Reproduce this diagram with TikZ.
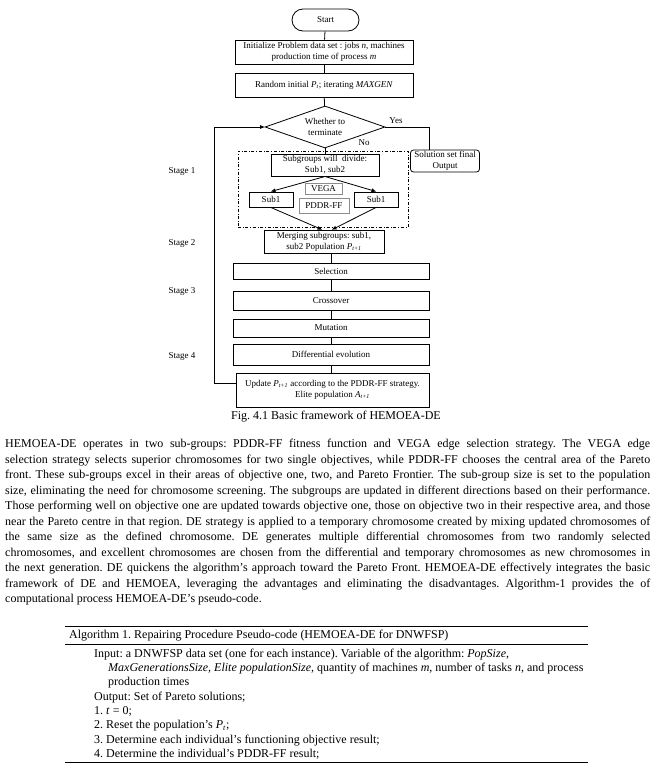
\documentclass[tikz,border=0pt]{standalone}
\usepackage{fontspec}
\setmainfont{Liberation Serif}[Ligatures=CommonOff]
\usetikzlibrary{arrows.meta,shapes.geometric,calc}
\newcommand\ff{\fontsize{9}{11}\selectfont}
\newcommand\pf{\fontsize{12}{15.5}\selectfont}
\newcommand\af{\fontsize{12}{14.3}\selectfont}
\newcommand\sbs[2]{\textit{#1}\textsubscript{\textit{#2}}}
\newcommand\jline[1]{\makebox[645pt][s]{#1}}
\frenchspacing
\begin{document}
\begin{tikzpicture}[x=1pt,y=-1pt,
  box/.style={draw, line width=0.8pt, inner sep=0pt, align=center, font=\ff},
  tbox/.style={box, line width=1.0pt},
  gbox/.style={box, draw=black!45, line width=0.9pt},
  lbl/.style={font=\ff, inner sep=0pt},
  arr/.style={line width=0.8pt, -{Triangle[length=4.5pt,width=3.5pt]}},
  ln/.style={line width=0.8pt},
  rule/.style={line width=0.9pt}]
\useasboundingbox (0,0) rectangle (658,777);
\fill[white] (0,0) rectangle (658,777);

% flowchart
\node[box, rounded corners=11pt, minimum width=67, minimum height=22] (start) at (325.5,20) {Start};
\node[box, minimum width=178, minimum height=24] (init) at (324,52) {Initialize Problem data set : jobs \textit{n}, machines\\production time of process \textit{m}};
\node[box, minimum width=178, minimum height=24] (rand) at (324,85) {Random initial \sbs{P}{t}; iterating \textit{MAXGEN}};
\node[box, diamond, aspect=2.857, minimum width=120, minimum height=42] (dia) at (325,127) {Whether to\\terminate};
\node[box, rounded corners=3pt, minimum width=69, minimum height=22] (sol) at (445,161) {Solution set final\\Output};
\node[draw, dash dot, line width=0.6pt, minimum width=170, minimum height=76, inner sep=0pt] (grp) at (323,189) {};
\node[tbox, minimum width=108, minimum height=22] (subg) at (325,165) {Subgroups will\ \ divide:\\Sub1, sub2};
\node[tbox, minimum width=44, minimum height=15] (s1) at (271,199.5) {Sub1};
\node[tbox, minimum width=44, minimum height=15] (s2) at (376,199.5) {Sub1};
\node[gbox, minimum width=37, minimum height=11] (vega) at (323.5,188.5) {VEGA};
\node[gbox, minimum width=50, minimum height=15] (pddr) at (324,205.5) {PDDR-FF};
\node[box, minimum width=120, minimum height=23] (merge) at (324,241.5) {Merging subgroups: sub1,\\sub2 Population \sbs{P}{t+1}};
\node[box, minimum width=196, minimum height=16] (sel) at (331,271) {Selection};
\node[box, minimum width=196, minimum height=19] (cross) at (331,300.5) {Crossover};
\node[box, minimum width=196, minimum height=18] (mut) at (331,328) {Mutation};
\node[box, minimum width=196, minimum height=21] (de) at (331,354.5) {Differential evolution};
\node[box, minimum width=193, minimum height=34] (upd) at (332.5,390) {Update \sbs{P}{t+1} according to the PDDR-FF strategy.\\Elite population \sbs{A}{t+1}};

\node[lbl] (st1) at (182,171) {Stage 1};
\node[lbl] (st2) at (182,243) {Stage 2};
\node[lbl] (st3) at (182,291) {Stage 3};
\node[lbl] (st4) at (182,356) {Stage 4};

\draw[ln] (start) -- (init);
\draw[ln] (init) -- (rand);
\draw[ln] (rand) -- (dia);
\draw[ln] (dia.south) -- (dia.south |- subg.north);
\coordinate (yc) at (429,127);
\draw[ln] (dia.east) -- (yc) -- (yc |- sol.north);
\node[lbl] (yes) at (396,121) {Yes};
\node[lbl] (no) at (364,143) {No};
\draw[arr] (subg.south) -- (s1.north);
\draw[arr] (subg.south) -- (s2.north);
\draw[arr] (s1.south) -- ($(merge.north)+(-2,0)$);
\draw[arr] (s2.south) -- ($(merge.north)+(8,0)$);
\draw[ln] (sel.north) -- (sel.north |- merge.south);
\draw[ln] (sel) -- (cross);
\draw[ln] (cross) -- (mut);
\draw[ln] (mut) -- (de);
\draw[ln] (de.south) -- (de.south |- upd.north);
\draw[arr] ($(upd.west)+(0,-7)$) -- ++(-21,0) |- (dia.west);

\node[font=\pf, inner sep=0pt] (cap) at (336,417) {Fig. 4.1 Basic framework of HEMOEA-DE};

% paragraph
\node[anchor=north west, inner sep=0pt, align=left, font=\pf] (para) at (5,439) {%
\jline{HEMOEA-DE operates in two sub-groups: PDDR-FF fitness function and VEGA edge selection strategy. The VEGA edge}\\
\jline{selection strategy selects superior chromosomes for two single objectives, while PDDR-FF chooses the central area of the Pareto}\\
\jline{front. These sub-groups excel in their areas of objective one, two, and Pareto Frontier. The sub-group size is set to the population}\\
\jline{size, eliminating the need for chromosome screening. The subgroups are updated in different directions based on their performance.}\\
\jline{Those performing well on objective one are updated towards objective one, those on objective two in their respective area, and those}\\
\jline{near the Pareto centre in that region. DE strategy is applied to a temporary chromosome created by mixing updated chromosomes of}\\
\jline{the same size as the defined chromosome. DE generates multiple differential chromosomes from two randomly selected}\\
\jline{chromosomes, and excellent chromosomes are chosen from the differential and temporary chromosomes as new chromosomes in}\\
\jline{the next generation. DE quickens the algorithm’s approach toward the Pareto Front. HEMOEA-DE effectively integrates the basic}\\
\jline{framework of DE and HEMOEA, leveraging the advantages and eliminating the disadvantages. Algorithm-1 provides the of}\\
computational process HEMOEA-DE’s pseudo-code.};

% algorithm
\coordinate (r1a) at (65,626); \coordinate (r1b) at (588,626);
\coordinate (r2a) at (65,644); \coordinate (r2b) at (588,644);
\coordinate (r3a) at (65,762); \coordinate (r3b) at (588,762);
\draw[rule] (r1a) -- (r1b);
\draw[rule] (r2a) -- (r2b);
\draw[rule] (r3a) -- (r3b);
\node[anchor=base west, inner sep=0pt, font=\af] (algt) at (69,638) {Algorithm 1. Repairing Procedure Pseudo-code (HEMOEA-DE for DNWFSP)};
\node[anchor=north west, inner sep=0pt, align=left, font=\af] (alg) at (94,648.6) {%
Input: a DNWFSP data set (one for each instance). Variable of the algorithm: \textit{PopSize},\\
\hspace*{14pt}\textit{MaxGenerationsSize, Elite populationSize,} quantity of machines \textit{m}, number of tasks \textit{n}, and process\\
\hspace*{14pt}production times\\
Output: Set of Pareto solutions;\\
1. \textit{t} = 0;\\
2. Reset the population’s \sbs{P}{t};\\
3. Determine each individual’s functioning objective result;\\
4. Determine the individual’s PDDR-FF result;};
\end{tikzpicture}
\end{document}
